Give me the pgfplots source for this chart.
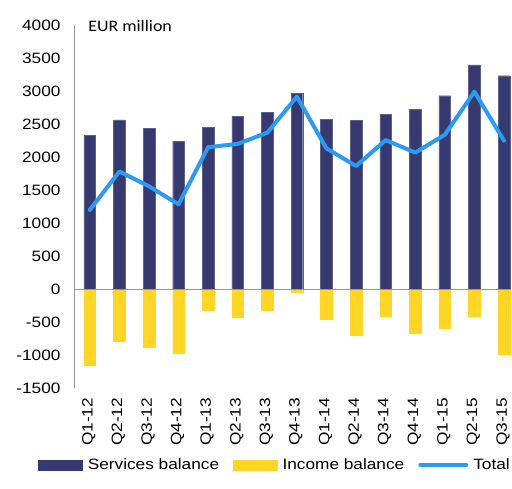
\documentclass[border=0pt]{standalone}
\usepackage{pgfplots}
\pgfplotsset{compat=1.18}
\usepackage{fontspec}
\setmainfont{Liberation Sans}[FakeStretch=1.15]
\newfontfamily\carlito{Carlito}[FakeStretch=1.12]
\definecolor{navy}{HTML}{363A70}
\definecolor{gold}{HTML}{FFD625}
\definecolor{skyb}{HTML}{2B9AF3}
\pgfplotstableread{
x serv inc tot
0 2327 -1147 1200
1 2565 -783 1782
2 2439 -879 1558
3 2242 -975 1285
4 2454 -314 2150
5 2621 -430 2200
6 2682 -318 2370
7 2964 -51 2915
8 2576 -450 2132
9 2561 -703 1865
10 2652 -405 2258
11 2727 -662 2068
12 2929 -591 2338
13 3398 -415 2990
14 3232 -991 2250
}\datatable
\begin{document}
\begin{tikzpicture}
\path[use as bounding box] (0,0) rectangle (512pt,489pt);
\begin{axis}[
  at={(75pt,100.7pt)}, anchor=south west,
  scale only axis, width=436.4pt, height=363.3pt,
  xmin=-0.5, xmax=14.25, ymin=-1500, ymax=4000,
  ytick={-1500,-1000,...,4000},
  xtick={0,...,14},
  xticklabels={Q1-12,Q2-12,Q3-12,Q4-12,Q1-13,Q2-13,Q3-13,Q4-13,Q1-14,Q2-14,Q3-14,Q4-14,Q1-15,Q2-15,Q3-15},
  axis line style={draw=none},
  major tick length=0pt,
  /pgf/number format/assume math mode=true,
  /pgf/number format/1000 sep={},
  yticklabel style={font=\fontsize{15}{18}\selectfont, anchor=east, xshift=-11pt},
  xticklabel style={font=\fontsize{15}{18}\selectfont, yshift=-6pt, xshift=-1pt, rotate=90, anchor=east},
  clip=false,
  legend columns=3,
  legend style={at={(0.4585,-0.211)}, anchor=center, draw=none, fill=none,
    font=\fontsize{15}{18}\selectfont, column sep=3pt,
    /tikz/every even column/.append style={column sep=12pt}},
]
\addplot[ybar, bar width=11.7pt, bar shift=0pt, fill=navy, draw=navy!80,
  legend image code/.code={\fill[navy] (0pt,-5pt) rectangle (44pt,5pt);}]
  table[x=x, y=serv] {\datatable};
\addlegendentry{Services balance}
\addplot[ybar, bar width=11.7pt, bar shift=0pt, fill=gold, draw=gold,
  legend image code/.code={\fill[gold] (0pt,-5pt) rectangle (44pt,5pt);}]
  table[x=x, y=inc] {\datatable};
\addlegendentry{Income balance}
\draw[gray!80, line width=1pt] (axis cs:-0.5,0) -- (axis cs:14.25,0);
\draw[gray!80, line width=1pt] (axis cs:-0.5,-1500) -- (axis cs:-0.5,4000);
\addplot[skyb, line width=4pt, line join=round, line cap=round, mark=none,
  legend image code/.code={\draw[skyb, line width=4pt, line cap=round] (0pt,0pt) -- (46pt,0pt);}]
  table[x=x, y=tot] {\datatable};
\addlegendentry{Total}
\node[anchor=west, inner sep=0pt, font=\carlito\fontsize{16}{18}\selectfont] at (rel axis cs:0.03,0.997) {EUR million};
\end{axis}
\end{tikzpicture}
\end{document}
